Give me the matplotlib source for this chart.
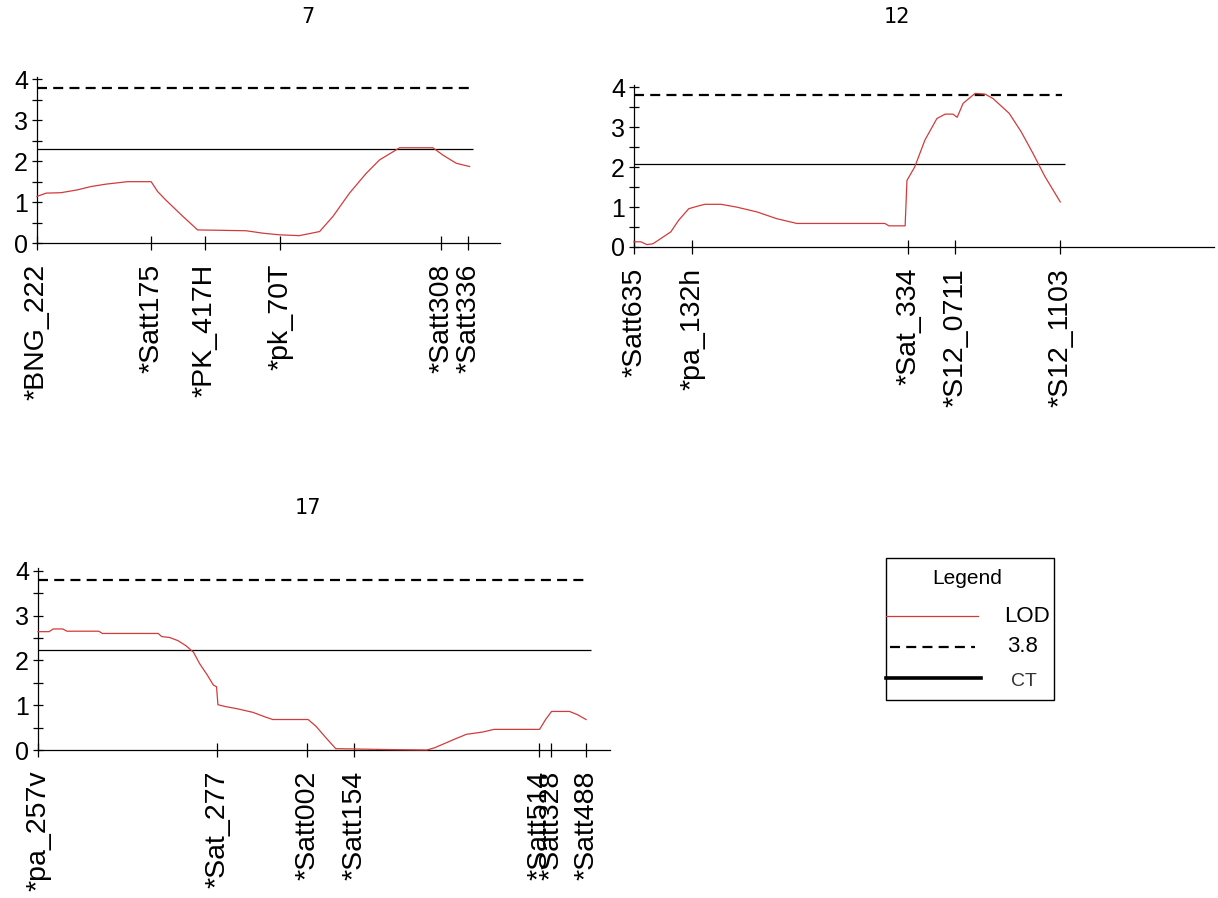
import matplotlib
matplotlib.use('Agg')
import matplotlib.pyplot as plt
from matplotlib.lines import Line2D
from matplotlib.patches import Rectangle

plt.rcParams['font.family'] = ['Liberation Sans', 'DejaVu Sans']

W, H = 1218, 898
threshold = 3.8

# chromosome 7
chr7_markers = ['*BNG_222', '*Satt175', '*PK_417H', '*pk_70T', '*Satt308', '*Satt336']
chr7_pos = [0, 24.8, 36.5, 52.8, 87.8, 93.7]
chr7_cm = [0, 2.0, 5.2, 8.8, 11.7, 15.0, 19.7, 24.8, 26.2, 28.0, 31.7, 34.9, 45.4,
           49.1, 52.7, 57.0, 61.4, 64.3, 67.9, 71.5, 74.4, 78.8, 86.0, 88.2, 91.1, 94.0]
chr7_lod = [1.14, 1.22, 1.23, 1.30, 1.38, 1.44, 1.50, 1.50, 1.26, 1.05, 0.65, 0.32, 0.30,
            0.24, 0.20, 0.18, 0.28, 0.65, 1.22, 1.70, 2.03, 2.33, 2.33, 2.15, 1.95, 1.87]
chr7_ct = 2.29

# chromosome 12
chr12_markers = ['*Satt635', '*pa_132h', '*Sat_334', '*S12_0711', '*S12_1103']
chr12_pos = [0, 12.6, 59.6, 69.8, 92.6]
chr12_cm = [0, 1.5, 2.8, 4.1, 5.8, 8.0, 9.7, 11.9, 13.7, 15.4, 18.9, 22.3, 26.7, 31.0,
            35.4, 54.5, 55.4, 58.9, 59.3, 61.0, 63.2, 65.8, 67.6, 69.3, 70.2, 71.5, 74.1,
            76.3, 78.0, 81.5, 84.1, 86.7, 89.3, 92.6]
chr12_lod = [0.13, 0.13, 0.06, 0.08, 0.21, 0.38, 0.67, 0.96, 1.02, 1.07, 1.07, 1.00, 0.88,
             0.71, 0.59, 0.59, 0.53, 0.53, 1.67, 2.01, 2.68, 3.22, 3.33, 3.33, 3.25, 3.60,
             3.85, 3.83, 3.72, 3.35, 2.89, 2.34, 1.76, 1.13]
chr12_ct = 2.08

# chromosome 17
chr17_markers = ['*pa_257v', '*Sat_277', '*Satt002', '*Satt154', '*Satt514', '*Satt328', '*Satt488']
chr17_pos = [0, 38.9, 58.5, 68.7, 108.9, 111.5, 119.1]
chr17_cm = [0, 2.4, 3.3, 5.4, 6.3, 13.2, 14.0, 26.1, 26.9, 28.6, 30.4, 32.1, 33.8, 35.1,
            36.8, 38.1, 38.8, 39.1, 40.7, 43.3, 46.7, 49.3, 51.0, 58.7, 60.4, 62.6, 64.7,
            75.9, 84.5, 86.2, 90.5, 93.1, 96.6, 99.1, 109.0, 110.3, 111.6, 115.5, 117.2, 119.1]
chr17_lod = [2.64, 2.64, 2.70, 2.70, 2.65, 2.65, 2.60, 2.60, 2.53, 2.51, 2.44, 2.33, 2.18, 1.93,
             1.67, 1.45, 1.41, 1.01, 0.97, 0.92, 0.84, 0.74, 0.68, 0.68, 0.53, 0.27, 0.03,
             0.01, 0.0, 0.05, 0.24, 0.35, 0.40, 0.46, 0.46, 0.68, 0.86, 0.86, 0.79, 0.68]
chr17_ct = 2.24

red = '#d23b3b'


def px(x, y):
    return x / W, 1 - y / H


def panel(fig, left, right, bottom, top, xmax, cm, lod, markers, pos, ct):
    ax = fig.add_axes([left / W, 1 - bottom / H, (right - left) / W, (bottom - top) / H])
    ax.plot(cm, lod, color=red, lw=0.9, clip_on=False, zorder=3)
    ax.hlines(threshold, 0, pos[-1] + 0.3, colors='k', lw=1.6, linestyles=(0, (4.5, 2.8)))
    ax.hlines(ct, 0, pos[-1] + 1.0, colors='k', lw=0.9)
    for s in ['top', 'right']:
        ax.spines[s].set_visible(False)
    for s in ['left', 'bottom']:
        ax.spines[s].set_linewidth(0.9)
    ax.set_xlim(0, xmax)
    ax.set_ylim(0, 4.06)
    ax.set_yticks([0, 1, 2, 3, 4])
    ax.set_yticks([0.5, 1.5, 2.5, 3.5], minor=True)
    ax.set_xticks(pos, markers, rotation=90)
    ax.tick_params(axis='y', which='both', direction='inout', length=7, width=0.9,
                   labelsize=18, pad=3)
    ax.tick_params(axis='x', direction='inout', length=10, width=0.9, labelsize=20.5, pad=10)
    return ax


fig = plt.figure(figsize=(W / 100, H / 100), dpi=100)

panel(fig, 37, 500, 243, 77, 100.6, chr7_cm, chr7_lod, chr7_markers, chr7_pos, chr7_ct)
panel(fig, 634, 1214, 247, 85, 126.0, chr12_cm, chr12_lod, chr12_markers, chr12_pos, chr12_ct)
panel(fig, 38, 610, 750, 568, 124.3, chr17_cm, chr17_lod, chr17_markers, chr17_pos, chr17_ct)

title_font = ['Liberation Sans Narrow', 'DejaVu Sans']
for label, (x, y) in [('7', (308, 17)), ('12', (897, 17)), ('17', (308, 508))]:
    fig.text(*px(x, y), label, ha='center', va='center', fontsize=15, family=title_font)

# legend box
x0, y0 = px(886, 700)
x1, y1 = px(1054, 558)
fig.patches.append(Rectangle((x0, y0), x1 - x0, y1 - y0, transform=fig.transFigure,
                             fill=False, edgecolor='k', lw=1.0))
fig.text(*px(967, 578), 'Legend', ha='center', va='center', fontsize=15)
fig.lines.append(Line2D([886 / W, 978 / W], [1 - 616 / H] * 2, transform=fig.transFigure,
                        color=red, lw=0.9))
fig.lines.append(Line2D([890 / W, 975 / W], [1 - 647 / H] * 2, transform=fig.transFigure,
                        color='k', lw=1.6, linestyle=(0, (4.5, 2.8))))
fig.lines.append(Line2D([886 / W, 981 / W], [1 - 678 / H] * 2, transform=fig.transFigure,
                        color='k', lw=2.6))
fig.text(*px(1004, 616), 'LOD', ha='left', va='center', fontsize=16)
fig.text(*px(1007, 646), '3.8', ha='left', va='center', fontsize=16)
fig.text(*px(1011, 681), 'CT', ha='left', va='center', fontsize=14, color='#333333')

fig.savefig('out.png', dpi=100)
